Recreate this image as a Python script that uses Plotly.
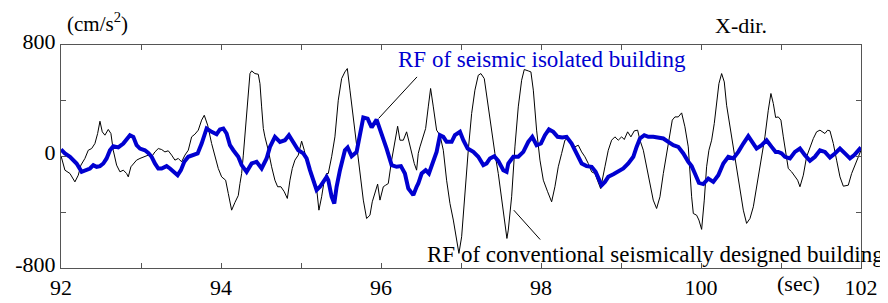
import plotly.graph_objects as go

# Conventional seismically designed building (black), time [s] / acceleration [cm/s^2]
t_conv = [92.0, 92.049, 92.112, 92.174, 92.216, 92.249, 92.299, 92.341, 92.383, 92.424, 92.458, 92.487,
          92.516, 92.549, 92.591, 92.624, 92.653, 92.695, 92.737, 92.779, 92.820, 92.841, 92.874, 92.904,
          92.945, 92.987, 93.029, 93.091, 93.133, 93.174, 93.216, 93.258, 93.299, 93.341, 93.383, 93.424,
          93.466, 93.508, 93.549, 93.591, 93.633, 93.674, 93.716, 93.758, 93.791, 93.833, 93.883, 93.924,
          93.966, 94.008, 94.058, 94.091, 94.133, 94.174, 94.216, 94.237, 94.258, 94.279, 94.299, 94.320,
          94.341, 94.362, 94.383, 94.424, 94.466, 94.487, 94.508, 94.529, 94.549, 94.591, 94.633, 94.674,
          94.708, 94.749, 94.791, 94.829, 94.862, 94.891, 94.924, 94.966, 95.008, 95.041, 95.070, 95.099,
          95.124, 95.166, 95.195, 95.224, 95.258, 95.291, 95.320, 95.341, 95.383, 95.424, 95.466, 95.508,
          95.549, 95.579, 95.612, 95.654, 95.695, 95.737, 95.779, 95.820, 95.862, 95.891, 95.924, 95.958,
          95.987, 96.029, 96.058, 96.091, 96.133, 96.174, 96.208, 96.237, 96.279, 96.320, 96.362, 96.416,
          96.445, 96.466, 96.487, 96.516, 96.558, 96.591, 96.620, 96.654, 96.695, 96.737, 96.779, 96.820,
          96.862, 96.904, 96.945, 96.974, 97.008, 97.049, 97.091, 97.133, 97.174, 97.216, 97.249, 97.291,
          97.341, 97.383, 97.424, 97.466, 97.508, 97.549, 97.574, 97.591, 97.633, 97.674, 97.716, 97.758,
          97.791, 97.841, 97.874, 97.904, 97.945, 97.987, 98.029, 98.083, 98.133, 98.174, 98.216, 98.258,
          98.299, 98.333, 98.374, 98.424, 98.466, 98.508, 98.549, 98.591, 98.633, 98.674, 98.716, 98.745,
          98.799, 98.841, 98.883, 98.924, 98.966, 99.008, 99.041, 99.083, 99.124, 99.166, 99.208, 99.237,
          99.279, 99.320, 99.362, 99.403, 99.445, 99.487, 99.529, 99.570, 99.612, 99.641, 99.674, 99.716,
          99.758, 99.799, 99.841, 99.862, 99.883, 99.904, 99.945, 99.974, 100.008, 100.041, 100.070, 100.099,
          100.133, 100.166, 100.195, 100.224, 100.258, 100.291, 100.320, 100.362, 100.404, 100.445, 100.487,
          100.529, 100.570, 100.612, 100.654, 100.695, 100.737, 100.766, 100.799, 100.841, 100.874, 100.904,
          100.933, 100.966, 100.999, 101.029, 101.058, 101.091, 101.133, 101.174, 101.208, 101.237, 101.279,
          101.320, 101.362, 101.404, 101.445, 101.487, 101.549, 101.583, 101.612, 101.654, 101.695, 101.737,
          101.779, 101.841, 101.883, 101.924, 101.966, 102.0]
a_conv = [5, -98, -122, -182, -134, -62, -14, 45, 57, 93, 165, 253,
          177, 153, 194, 165, 45, -62, -110, -98, -122, -146, -74, -50,
          -26, -14, -2, 10, -2, 33, 57, 50, 33, 41, 10, -26,
          -14, -38, 10, 45, 141, 160, 189, 261, 296, 225, 93, -2,
          -86, -146, -170, -265, -385, -330, -280, -194, -122, 10, 141, 308,
          476, 595, 614, 595, 590, 523, 356, 201, 141, 45, -74, -170,
          -217, -217, -253, -301, -170, -86, -26, 10, 110, 45, -38, -86,
          -146, -165, -229, -385, -289, -170, -122, -122, -2, 141, 404, 559,
          607, 631, 476, 284, 93, -122, -313, -445, -421, -325, -265, -198,
          -313, -217, -206, -194, -26, 93, 217, 117, 117, 177, 69, -50,
          -98, 22, 69, 129, 201, 356, 488, 356, 189, 153, 45, -170,
          -337, -456, -600, -695, -576, -241, 45, 308, 476, 583, 595, 559,
          356, 165, 22, -122, -289, -480, -588, -528, -289, 69, 356, 547,
          624, 614, 607, 476, 189, -26, -170, -253, -325, -217, -74, 22,
          117, 129, 93, 69, 81, 33, -2, -50, -110, -122, -182, -230,
          -74, 45, 117, 141, 117, 141, 122, 177, 141, 184, 189, 117,
          45, -74, -194, -313, -373, -289, -122, 22, 153, 261, 284, 284,
          313, 213, 69, -122, -289, -409, -421, -456, -523, -313, -74, 45,
          117, 237, 404, 523, 595, 535, 368, 213, 45, -98, -241,
          -385, -480, -445, -361, -217, -74, 22, 141, 332, 452, 380,
          280, 284, 261, 141, 22, -86, -110, -146, -170, -217, -134,
          -2, 69, 129, 177, 189, 165, 189, 184, 93, -26, -146,
          -213, -206, -122, -62, 10, 45]

# Seismic isolated building (blue)
t_iso = [92.0, 92.049, 92.112, 92.195, 92.258, 92.320, 92.362, 92.404, 92.445, 92.487, 92.529, 92.570,
         92.612, 92.653, 92.716, 92.779, 92.820, 92.862, 92.904, 92.945, 92.987, 93.049, 93.091, 93.133,
         93.174, 93.216, 93.258, 93.320, 93.362, 93.416, 93.458, 93.499, 93.541, 93.591, 93.654, 93.708,
         93.758, 93.820, 93.883, 93.945, 93.987, 94.029, 94.070, 94.112, 94.154, 94.195, 94.216, 94.258,
         94.320, 94.383, 94.445, 94.508, 94.570, 94.612, 94.674, 94.737, 94.799, 94.849, 94.904, 94.966,
         95.029, 95.070, 95.112, 95.154, 95.195, 95.237, 95.279, 95.320, 95.341, 95.383, 95.416, 95.445,
         95.487, 95.549, 95.583, 95.633, 95.695, 95.737, 95.779, 95.833, 95.883, 95.945, 96.008, 96.070,
         96.133, 96.195, 96.249, 96.299, 96.341, 96.404, 96.445, 96.466, 96.508, 96.558, 96.599, 96.654,
         96.695, 96.737, 96.779, 96.820, 96.883, 96.924, 96.987, 97.029, 97.083, 97.154, 97.216, 97.279,
         97.320, 97.362, 97.416, 97.466, 97.529, 97.570, 97.591, 97.654, 97.716, 97.779, 97.841, 97.891,
         97.945, 97.999, 98.049, 98.099, 98.154, 98.208, 98.266, 98.320, 98.383, 98.424, 98.466, 98.508,
         98.570, 98.633, 98.683, 98.716, 98.758, 98.799, 98.841, 98.904, 98.966, 99.029, 99.091, 99.154,
         99.195, 99.237, 99.291, 99.341, 99.404, 99.466, 99.529, 99.591, 99.654, 99.716, 99.779, 99.841,
         99.883, 99.924, 99.974, 100.029, 100.091, 100.154, 100.216, 100.279, 100.341, 100.404, 100.466,
         100.529, 100.591, 100.654, 100.695, 100.758, 100.820, 100.883, 100.933, 100.966, 101.008, 101.049,
         101.112, 101.174, 101.237, 101.299, 101.362, 101.424, 101.487, 101.549, 101.612, 101.674, 101.737,
         101.799, 101.862, 101.916, 101.966, 102.0]
a_iso = [50, 22, -2, -50, -110, -98, -86, -62, -74, -69, -50, -14,
         45, 74, 65, 93, 129, 153, 141, 81, 57, 45, 26, -2,
         -50, -86, -86, -69, -86, -110, -134, -98, -38, -2, 10, 22,
         93, 201, 177, 160, 194, 201, 165, 81, 45, 10, -2, -62,
         -110, -50, -38, -86, -14, 69, 141, 105, 117, 153, 105, 45,
         22, -14, -98, -170, -241, -217, -182, -146, -170, -289, -337, -217,
         -98, 45, 65, 2, 33, 141, 280, 272, 208, 265, 165, 57,
         -62, -74, -69, -122, -229, -277, -217, -194, -122, -98, -122, -26,
         33, 153, 141, 105, 105, 153, 177, 117, 57, 33, -2, -62,
         -50, -14, 2, -31, -98, -110, -50, -2, -2, 33, 105, 141,
         81, 93, 153, 194, 177, 141, 136, 141, 93, 45, -2, -50,
         -69, -74, -110, -146, -206, -182, -146, -127, -110, -86, -50, -2,
         69, 129, 153, 141, 141, 136, 129, 105, 81, 69, 22, -38,
         -69, -122, -189, -198, -158, -182, -134, -50, -2, -14, 33,
         93, 146, 93, 57, 81, 117, 69, 33, 33, 22, -2,
         -14, 33, 57, 10, -31, -2, 45, 33, -7, 22, 57,
         22, -14, 10, 45, 65]

x_labels = [92, 94, 96, 98, 100, 102]
y_labels = [-800, 0, 800]

FONT = "Liberation Serif, Times New Roman, serif"

fig = go.Figure()
fig.add_trace(go.Scatter(x=t_conv, y=a_conv, mode="lines",
                         line=dict(color="black", width=1), showlegend=False))
fig.add_trace(go.Scatter(x=t_iso, y=a_iso, mode="lines",
                         line=dict(color="#0000d0", width=4), showlegend=False))

axis_common = dict(showline=True, linecolor="#555555", linewidth=1, mirror="ticks",
                   ticks="inside", ticklen=5, tickcolor="#555555", showgrid=False,
                   zeroline=False, automargin=False,
                   tickfont=dict(family=FONT, size=22, color="black"))

fig.update_xaxes(range=[92, 102], tickmode="array", tickvals=x_labels,
                 ticktext=[str(v) for v in x_labels],
                 minor=dict(ticks="inside", ticklen=5, tickcolor="#555555", dtick=1, showgrid=False),
                 **axis_common)
fig.update_yaxes(range=[-800, 800], tickmode="array", tickvals=y_labels,
                 ticktext=[str(v) for v in y_labels], ticklabelshift=-4,
                 minor=dict(ticks="inside", ticklen=5, tickcolor="#555555", dtick=400, showgrid=False),
                 **axis_common)

# leader lines
fig.add_shape(type="line", x0=96.45, y0=571, x1=95.97, y1=273, line=dict(color="black", width=1))
fig.add_shape(type="line", x0=97.66, y0=-385, x1=97.99, y1=-596, line=dict(color="black", width=1))

fig.add_annotation(x=96.19, y=698, xref="x", yref="y", text="RF of seismic isolated building",
                   showarrow=False, xanchor="left", yanchor="middle",
                   font=dict(family=FONT, size=23, color="#0000d0"))
fig.add_annotation(x=96.55, y=-701, xref="x", yref="y",
                   text="RF of conventional seismically designed building",
                   showarrow=False, xanchor="left", yanchor="middle",
                   font=dict(family=FONT, size=23, color="black"))
fig.add_annotation(x=0.046, y=1.102, xref="paper", yref="paper", text="(cm/s<sup>2</sup>)",
                   showarrow=False, xanchor="center", yanchor="middle",
                   font=dict(family=FONT, size=21, color="black"))
fig.add_annotation(x=0.850, y=1.088, xref="paper", yref="paper", text="X-dir.",
                   showarrow=False, xanchor="center", yanchor="middle",
                   font=dict(family=FONT, size=22, color="black"))
fig.add_annotation(x=0.9216, y=-0.069, xref="paper", yref="paper", text="(sec)",
                   showarrow=False, xanchor="center", yanchor="middle",
                   font=dict(family=FONT, size=22, color="black"))

# The page body has an 8px margin, so the figure is sized to fill the rest of the window.
fig.update_layout(width=880, height=295, margin=dict(l=53, r=27, t=37, b=35),
                  paper_bgcolor="white", plot_bgcolor="white",
                  font=dict(family=FONT, color="black"))

fig.write_html("out.html")
